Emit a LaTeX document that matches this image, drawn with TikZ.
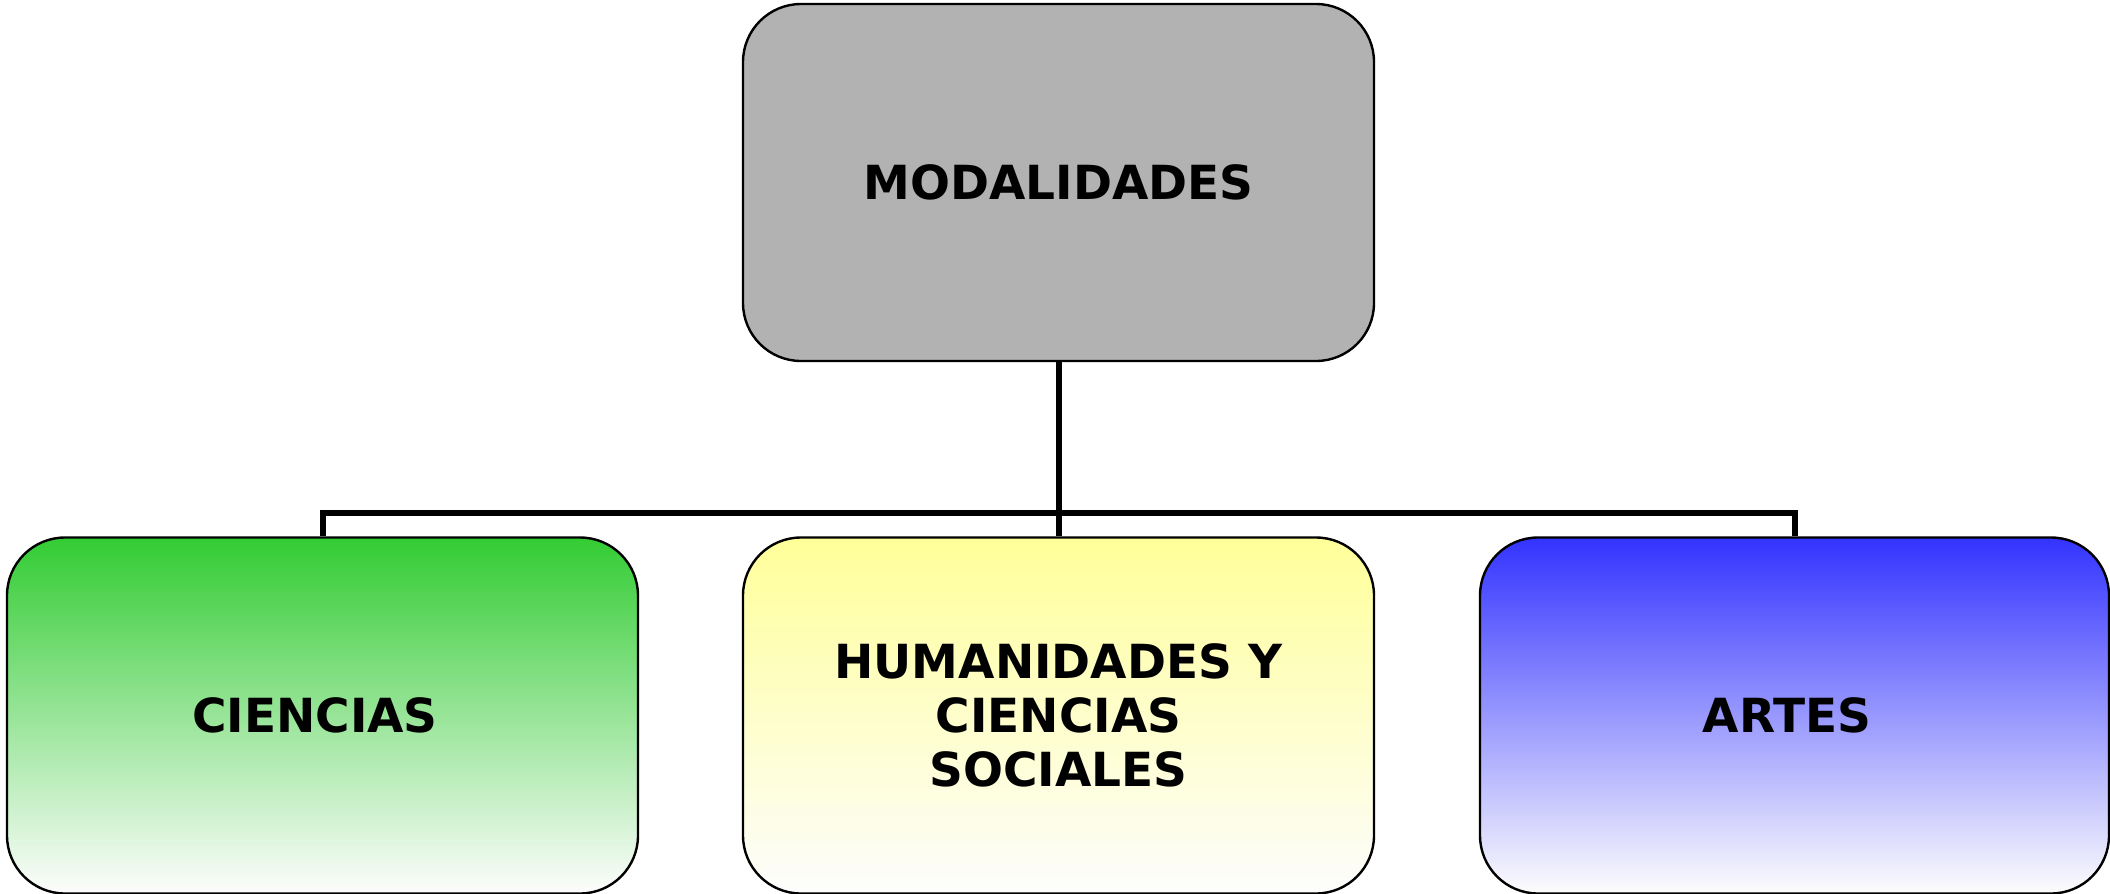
\documentclass[tikz,border=0pt]{standalone}
\usepackage{fontspec}
\setmainfont{DejaVu Sans}
\begin{document}
\begin{tikzpicture}[x=1pt,y=-1pt,
  box/.style={draw=black, line width=2.4pt, rounded corners=58pt, inner sep=0pt,
    minimum width=631pt, minimum height=356pt, align=center,
    font=\fontsize{47}{54}\selectfont\bfseries},
  link/.style={draw=black, line width=6pt}]
\useasboundingbox (0,0) rectangle (2110,894);
\definecolor{greytop}{RGB}{178,178,178}
\definecolor{greentop}{RGB}{51,204,51}
\definecolor{yellowtop}{RGB}{255,255,153}
\definecolor{bluetop}{RGB}{51,51,255}
\definecolor{paleend}{RGB}{253,253,253}
\node[box, fill=greytop, minimum height=357pt] (top) at (1058.5,182.5) {MODALIDADES};
\node[box, top color=greentop, bottom color=paleend] (cien) at (322.5,715.5) {CIENCIAS\hspace*{15pt}};
\node[box, top color=yellowtop, bottom color=paleend] (hum) at (1058.5,715.5) {HUMANIDADES Y\\CIENCIAS\\SOCIALES};
\node[box, top color=bluetop, bottom color=paleend, minimum width=629pt] (art) at (1794.5,715.5) {ARTES\hspace*{15pt}};
\coordinate (bus) at (1058.5,513);
\draw[link] (top.south) -- (hum.north);
\draw[link] (cien.north) |- (bus) -| (art.north);
\end{tikzpicture}
\end{document}
